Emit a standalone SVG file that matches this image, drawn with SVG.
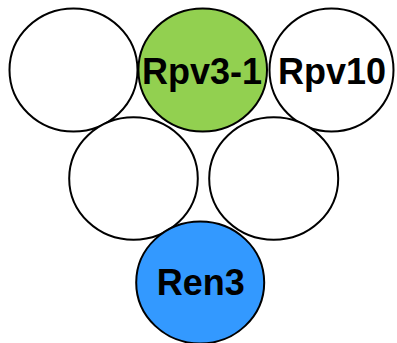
<svg xmlns="http://www.w3.org/2000/svg" width="397" height="343" viewBox="0 0 397 343">
<style>
.c{stroke:#000;stroke-width:2}
.t{font-family:"Liberation Sans",Arial,sans-serif;font-weight:bold;font-size:36px;text-anchor:middle;fill:#000}
</style>
<rect width="397" height="343" fill="#fff"/>
<g id="n1"><ellipse class="c" cx="73.5" cy="70" rx="64" ry="61.5" fill="#fff"/></g>
<g id="n3"><ellipse class="c" cx="331.5" cy="70" rx="62" ry="61.5" fill="#fff"/><text class="t" x="332" y="83.5">Rpv10</text></g>
<g id="n4"><ellipse class="c" cx="133.5" cy="178.5" rx="64.3" ry="61.3" fill="#fff"/></g>
<g id="n5"><ellipse class="c" cx="273.7" cy="178.5" rx="64.5" ry="61.3" fill="#fff"/></g>
<g id="n2"><ellipse class="c" cx="202.7" cy="70" rx="64.3" ry="61.5" fill="#92D050"/><text class="t" x="202" y="83.5">Rpv3-1</text></g>
<g id="n6"><ellipse class="c" cx="200.2" cy="282.5" rx="64" ry="61" fill="#3399FF"/><text class="t" x="200.8" y="295">Ren3</text></g>
<g id="connectors"></g>
</svg>
